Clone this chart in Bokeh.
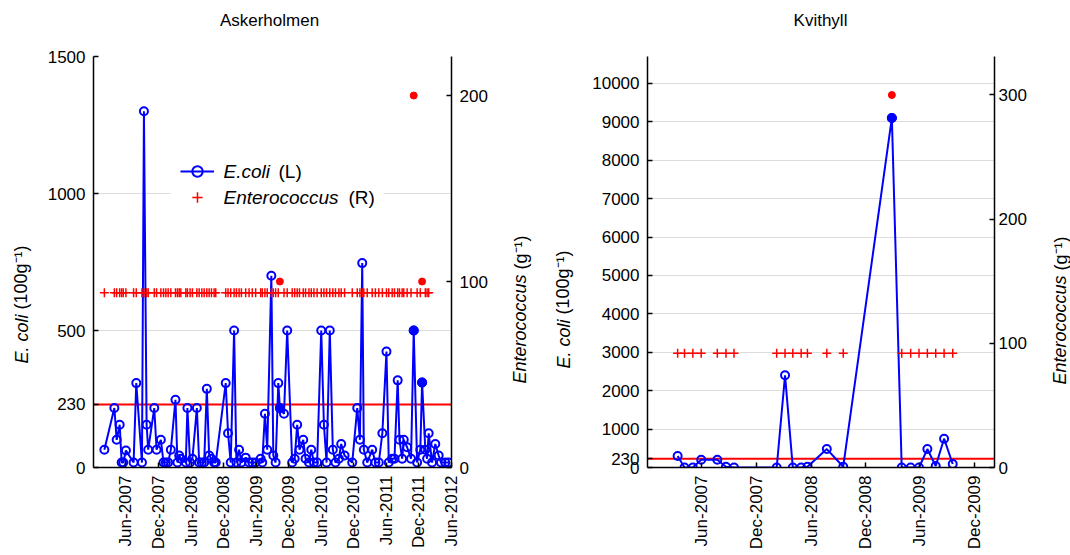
import pandas as pd
from math import pi
from bokeh.plotting import figure
from bokeh.layouts import row
from bokeh.models import (Range1d, LinearAxis, FixedTicker, DatetimeTickFormatter,
                          Span, Legend, LegendItem, Label, ColumnDataSource, BoxAnnotation)
from bokeh.embed import file_html
from bokeh.resources import INLINE

FONT = "Liberation Sans"
THRESHOLD = 230

# ---------------- Askerholmen ----------------
ask_dates = [
    "2007-01-31", "2007-03-28", "2007-04-10", "2007-04-27", "2007-05-08", "2007-05-17",
    "2007-06-01", "2007-07-14", "2007-07-29", "2007-08-30", "2007-09-10", "2007-09-25",
    "2007-10-04", "2007-11-07", "2007-11-20", "2007-12-14", "2007-12-29", "2008-01-11",
    "2008-01-24", "2008-02-08", "2008-03-05", "2008-03-16", "2008-03-26", "2008-04-04",
    "2008-05-02", "2008-05-11", "2008-05-26", "2008-06-08", "2008-07-03", "2008-07-16",
    "2008-07-31", "2008-08-13", "2008-08-28", "2008-09-10", "2008-09-23", "2008-10-08",
    "2008-10-17", "2008-12-12", "2008-12-25", "2009-01-09", "2009-01-28", "2009-02-10",
    "2009-02-25", "2009-03-10", "2009-04-03", "2009-04-22", "2009-05-10", "2009-05-29",
    "2009-06-26", "2009-07-05", "2009-07-20", "2009-08-02", "2009-08-25", "2009-09-05",
    "2009-09-18", "2009-10-03", "2009-10-12", "2009-11-04", "2009-11-22", "2009-12-20",
    "2010-01-03", "2010-01-17", "2010-01-30", "2010-02-20", "2010-03-05", "2010-03-24",
    "2010-04-06", "2010-04-21", "2010-05-09", "2010-06-01", "2010-06-16", "2010-07-01",
    "2010-07-19", "2010-08-05", "2010-08-20", "2010-09-08", "2010-09-21", "2010-10-10",
    "2010-11-22", "2010-12-20", "2011-01-04", "2011-01-17", "2011-01-26", "2011-02-14",
    "2011-03-14", "2011-04-01", "2011-04-20", "2011-05-10", "2011-06-02", "2011-06-15",
    "2011-07-04", "2011-07-17", "2011-08-04", "2011-08-14", "2011-08-29", "2011-09-07",
    "2011-09-26", "2011-10-18", "2011-11-02", "2011-11-21", "2011-12-09", "2011-12-19",
    "2012-01-06", "2012-01-16", "2012-01-25", "2012-02-13", "2012-03-02", "2012-03-21",
    "2012-04-03", "2012-04-27", "2012-05-16",
]
ask_ecoli = [
    65, 217, 101, 156, 18, 18,
    62, 18, 308, 18, 1300, 156,
    65, 217, 65, 101, 18, 18,
    18, 65, 247, 18, 44, 32,
    18, 217, 18, 32, 217, 18,
    18, 18, 287, 44, 32, 18,
    18, 308, 125, 18, 500, 18,
    65, 18, 36, 18, 18, 18,
    32, 18, 196, 65, 700, 44,
    18, 308, 217, 196, 500, 18,
    32, 156, 65, 101, 32, 18,
    65, 18, 18, 500, 156, 18,
    500, 65, 18, 32, 86, 44,
    18, 217, 101, 746, 65, 18,
    65, 18, 18, 125, 423, 18,
    32, 32, 318, 101, 32, 101,
    74, 32, 500, 18, 65, 310,
    65, 32, 125, 18, 86, 44,
    18, 18, 18,
]
ask_entero = [
    94, 94, 94, 94, 94, 94,
    94, 94, 94, 94, 94, 94,
    94, 94, 94, 94, 94, 94,
    94, 94, 94, 94, 94, 94,
    94, 94, 94, 94, 94, 94,
    94, 94, 94, 94, 94, 94,
    94, 94, 94, 94, 94, 94,
    94, 94, 94, 94, 94, 94,
    94, 94, 94, 94, 94, 94,
    94, 94, 100, 94, 94, 94,
    94, 94, 94, 94, 94, 94,
    94, 94, 94, 94, 94, 94,
    94, 94, 94, 94, 94, 94,
    94, 94, 94, 94, 94, 94,
    94, 94, 94, 94, 94, 94,
    94, 94, 94, 94, 94, 94,
    94, 94, 200, 94, 94, 100,
    94, 94, 94, None, None, None,
    None, None, None,
]
ask_ent_limit = 94
ask_x_ticks = ["Jun-2007", "Dec-2007", "Jun-2008", "Dec-2008", "Jun-2009", "Dec-2009",
               "Jun-2010", "Dec-2010", "Jun-2011", "Dec-2011", "Jun-2012"]
ask_y_ticks = [0, 230, 500, 1000, 1500]
ask_r_ticks = [0, 100, 200]

# ---------------- Kvithyll ----------------
kvi_dates = [
    "2007-03-12", "2007-04-04", "2007-05-02", "2007-05-30", "2007-07-23", "2007-08-21",
    "2007-09-17", "2008-02-07", "2008-03-06", "2008-04-01", "2008-04-29", "2008-05-20",
    "2008-07-24", "2008-09-17", "2009-02-27", "2009-04-01", "2009-05-01", "2009-05-29",
    "2009-06-26", "2009-07-24", "2009-08-21", "2009-09-19",
]
kvi_ecoli = [300, 0, 0, 200, 200, 20,
             0, 0, 2400, 0, 0, 20,
             480, 20, 9100, 0, 0, 0,
             480, 40, 750, 90]
kvi_entero = [92, 92, 92, 92, 92, 92,
              92, 92, 92, 92, 92, 92,
              92, 92, 300, 92, 92, 92,
              92, 92, 92, 92]
kvi_ent_limit = 92
kvi_x_ticks = ["Jun-2007", "Dec-2007", "Jun-2008", "Dec-2008", "Jun-2009", "Dec-2009"]
kvi_y_ticks = [0, 230, 1000, 2000, 3000, 4000, 5000, 6000, 7000, 8000, 9000, 10000]
kvi_r_ticks = [0, 100, 200, 300]


def ms(s):
    return pd.Timestamp(s).value / 1e6


def month_ms(lbl):
    return pd.to_datetime(lbl, format="%b-%Y").value / 1e6


def style_axis(ax, standoff=8):
    ax.axis_line_color = "black"
    ax.axis_line_width = 1.5
    ax.major_tick_line_color = "black"
    ax.major_tick_line_width = 1.5
    ax.major_tick_in = 5
    ax.major_tick_out = 0
    ax.minor_tick_line_color = None
    ax.major_label_text_font = FONT
    ax.major_label_text_font_size = "17px"
    ax.major_label_text_color = "black"
    ax.major_label_standoff = standoff


def side_label(p, side, x, y, text, italic):
    p.add_layout(Label(x=x, y=y, x_units="screen", y_units="screen", text=text,
                       angle=pi / 2, text_align="left", text_baseline="middle",
                       text_font=FONT, text_font_size="18px", text_color="black",
                       text_line_height=1.0,
                       text_font_style="italic" if italic else "normal"), side)


def panel(title, title_x, dates, ecoli, entero, limit, x_ticks, y_ticks, r_ticks,
          x_start, x_end, y_end, r_end, width, bl, br, r_standoff, lab_pos):
    x = [ms(d) for d in dates]
    p = figure(width=width, height=555, output_backend="svg", toolbar_location=None,
               x_axis_type="datetime", x_range=Range1d(ms(x_start), ms(x_end)),
               y_range=Range1d(0, y_end), min_border_left=bl, min_border_right=br,
               min_border_top=56, min_border_bottom=88)
    p.extra_y_ranges = {"ent": Range1d(0, r_end)}
    p.outline_line_color = None
    p.background_fill_color = "white"
    p.border_fill_color = "white"

    p.add_layout(Label(x=title_x, y=36, x_units="screen", y_units="screen", text=title,
                       text_align="center", text_baseline="middle", text_font=FONT,
                       text_font_size="17px", text_color="black", text_line_height=1.0),
                 "above")

    p.xaxis.ticker = FixedTicker(ticks=[month_ms(t) for t in x_ticks])
    fmt = "%b-%Y"
    p.xaxis.formatter = DatetimeTickFormatter(years=fmt, months=fmt, days=fmt, hours=fmt,
                                              hourmin=fmt, minutes=fmt, minsec=fmt,
                                              seconds=fmt, milliseconds=fmt, microseconds=fmt)
    p.xaxis.major_label_orientation = pi / 2
    p.yaxis.ticker = FixedTicker(ticks=y_ticks)
    p.xgrid.visible = False
    p.ygrid.ticker = FixedTicker(ticks=y_ticks)
    p.ygrid.grid_line_color = "#dcdcdc"
    p.ygrid.grid_line_width = 1

    rax = LinearAxis(y_range_name="ent", ticker=FixedTicker(ticks=r_ticks))
    p.add_layout(rax, "right")
    style_axis(p.xaxis[0])
    style_axis(p.yaxis[0])
    style_axis(rax, r_standoff)

    p.add_layout(Span(location=THRESHOLD, dimension="width", line_color="red",
                      line_width=2, level="underlay"))

    src = ColumnDataSource(dict(x=x, y=ecoli))
    line_r = p.line("x", "y", source=src, line_color="blue", line_width=2)
    circ_r = p.scatter("x", "y", source=src, marker="circle", size=8, fill_color=None,
                       line_color="blue", line_width=2)

    det_x = [xi for xi, e in zip(x, entero) if e is not None and e != limit]
    det_e = [yi for yi, e in zip(ecoli, entero) if e is not None and e != limit]
    det_v = [e for e in entero if e is not None and e != limit]
    p.scatter(det_x, det_e, marker="circle", size=9, fill_color="blue", line_color="blue")

    plus_x = [xi for xi, e in zip(x, entero) if e == limit]
    plus_y = [e for e in entero if e == limit]
    plus_r = p.scatter(plus_x, plus_y, marker="cross", size=9, line_color="red",
                       line_width=1.5, y_range_name="ent")
    p.scatter(det_x, det_v, marker="circle", size=7, fill_color="red", line_color="red",
              y_range_name="ent")

    (lx1, lx2, ly1, ly2), (rx1, rx2, ry1, ry2) = lab_pos
    side_label(p, "left", lx1, ly1, "E. coli", True)
    side_label(p, "left", lx2, ly2, "(100g\u207b\u00b9)", False)
    side_label(p, "right", rx1, ry1, "Enterococcus", True)
    side_label(p, "right", rx2, ry2, "(g\u207b\u00b9)", False)
    return p, line_r, circ_r, plus_r


p1, l1, c1, pl1 = panel("Askerholmen", 176, ask_dates, ask_ecoli, ask_entero, ask_ent_limit,
                        ask_x_ticks, ask_y_ticks, ask_r_ticks, "2006-12-01", "2012-06-01",
                        1500, 221, 535, 93, 84, 8,
                        ((-3, 16, 104, 158), (29, 10, 84, 198)))
p2, l2, c2, pl2 = panel("Kvithyll", 173, kvi_dates, kvi_ecoli, kvi_entero, kvi_ent_limit,
                        kvi_x_ticks, kvi_y_ticks, kvi_r_ticks, "2006-12-01", "2010-02-06",
                        10700, 331, 535, 112, 76, 4,
                        ((-6, 13, 99, 153), (30, 11, 83, 197)))

p1.add_layout(BoxAnnotation(left=77, right=290, bottom=247, top=319, left_units="screen",
                            right_units="screen", bottom_units="screen", top_units="screen",
                            fill_color="white", fill_alpha=1, line_color=None,
                            level="underlay"))
legend = Legend(items=[LegendItem(label=" ", renderers=[l1, c1]),
                       LegendItem(label=" ", renderers=[pl1])],
                location=(87, 257), background_fill_alpha=0,
                border_line_color=None, padding=10, spacing=0, glyph_width=34,
                glyph_height=26, label_height=26, label_width=150, label_standoff=9,
                margin=0, label_text_font=FONT, label_text_font_size="19px")
p1.add_layout(legend)
for (lx, ly, txt, it) in [(130, 296, "E.coli", True), (185, 296, "(L)", False),
                          (130, 270, "Enterococcus", True), (255, 270, "(R)", False)]:
    p1.add_layout(Label(x=lx, y=ly, x_units="screen", y_units="screen", text=txt,
                        text_baseline="middle", text_align="left", text_font=FONT,
                        text_font_size="19px", text_color="black",
                        text_font_style="italic" if it else "normal"))

layout = row(p1, p2)
open("out.html", "w").write(file_html(layout, INLINE))
